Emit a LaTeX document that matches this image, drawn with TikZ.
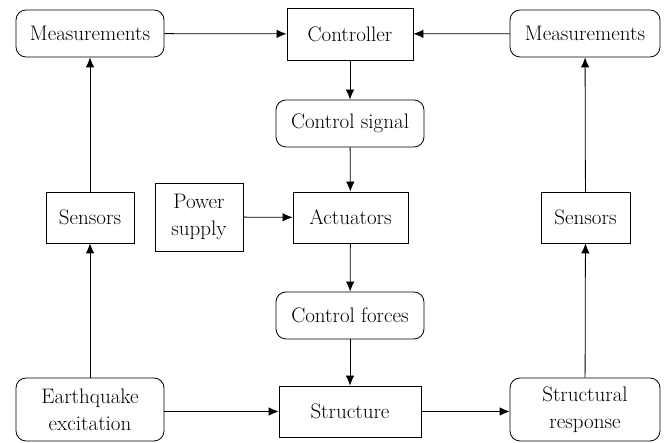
\documentclass[tikz,border=0pt]{standalone}
\usetikzlibrary{arrows.meta}
\begin{document}
\begin{tikzpicture}[x=1pt,y=1pt,
 box/.style={draw, line width=0.8pt, inner sep=0pt, align=center, font=\rmfamily\fontsize{21}{27}\selectfont},
 rbox/.style={box, rounded corners=10pt},
 arr/.style={-{Latex[length=10pt,width=8.5pt]}, line width=0.8pt}]
\useasboundingbox (0,0) rectangle (667,443);
\node[rbox, minimum width=148pt, minimum height=47pt] (m1) at (90,409.5) {Measurements};
\node[box, minimum width=126pt, minimum height=52pt] (ctrl) at (350,409) {Controller};
\node[rbox, minimum width=150pt, minimum height=47pt] (m2) at (585,409.5) {Measurements};
\node[rbox, minimum width=148pt, minimum height=47pt] (cs) at (350,319.5) {Control signal};
\node[box, minimum width=88pt, minimum height=51pt] (s1) at (90,225.5) {Sensors};
\node[box, minimum width=88pt, minimum height=68pt] (ps) at (199,226) {Power\\supply};
\node[box, minimum width=115pt, minimum height=51pt] (act) at (350.5,225.5) {Actuators};
\node[box, minimum width=89pt, minimum height=51pt] (s2) at (585.5,225.5) {Sensors};
\node[rbox, minimum width=148pt, minimum height=47pt] (cf) at (350,127.5) {Control forces};
\node[rbox, minimum width=148pt, minimum height=63pt] (eq) at (90,33.5) {Earthquake\\excitation};
\node[box, minimum width=142pt, minimum height=51pt] (st) at (350,31.5) {Structure};
\node[rbox, minimum width=150pt, minimum height=63pt] (sr) at (585,33.5) {Structural\\response};
\draw[arr] (m1) -- (ctrl);
\draw[arr] (m2) -- (ctrl);
\draw[arr] (ctrl) -- (cs);
\draw[arr] (cs) -- (act);
\draw[arr] (ps) -- (act);
\draw[arr] (act) -- (cf);
\draw[arr] (cf) -- (st);
\draw[arr] (eq.east |- st) -- (st);
\draw[arr] (st) -- (sr.west |- st);
\draw[arr] (eq) -- (s1);
\draw[arr] (s1) -- (m1);
\draw[arr] (sr) -- (s2);
\draw[arr] (s2) -- (m2);
\end{tikzpicture}
\end{document}
